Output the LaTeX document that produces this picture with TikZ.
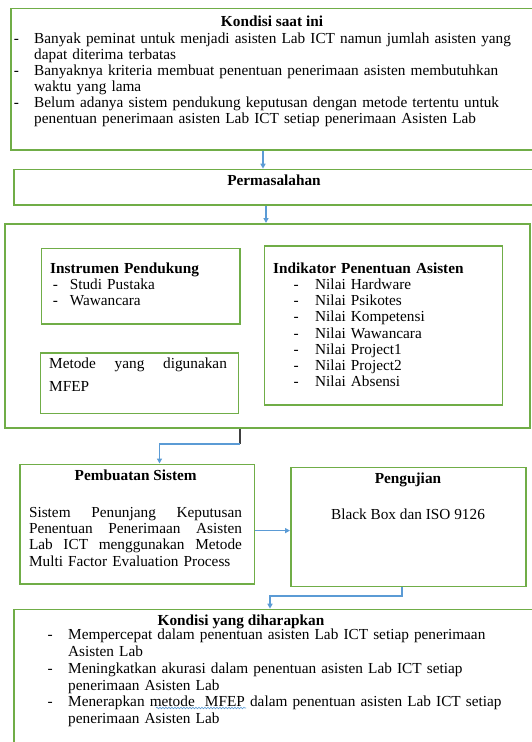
\documentclass[tikz,border=0pt]{standalone}
\usepackage{fontspec}
\setmainfont{Liberation Serif}
\usetikzlibrary{arrows.meta,decorations.pathmorphing}
\definecolor{bgreen}{HTML}{70AD47}
\definecolor{ablue}{HTML}{5B9BD5}
\definecolor{dline}{HTML}{404040}
\newcommand{\dsh}[1]{\makebox[#1][l]{-}}
\newcommand{\hng}[1]{\hspace*{#1}}
\begin{document}
\begin{tikzpicture}[x=1pt,y=-1pt,
  box/.style={draw=bgreen, line width=1.6pt, rectangle, inner sep=0pt, anchor=north west},
  arr/.style={draw=ablue, line width=1.3pt, -{Triangle[length=5pt,width=5pt]}},
  dk/.style={draw=dline, line width=1.6pt},
  txt/.style={inner sep=0pt, anchor=base west, text width=520pt, font=\fontsize{15.3}{16.1}\selectfont},
  txtb/.style={txt, font=\fontsize{15.3}{16.1}\selectfont\bfseries},
  ctxt/.style={inner sep=0pt, anchor=base, font=\fontsize{15.3}{16.1}\selectfont\bfseries},
  ctxtn/.style={inner sep=0pt, anchor=base, font=\fontsize{15.3}{16.1}\selectfont}]
\useasboundingbox (0,0) rectangle (532,742);
\clip (0,0) rectangle (532,742);
% boxes
\node[box, minimum width=535pt, minimum height=141.5pt] (k1) at (10,7.5) {};
\node[box, minimum width=532pt, minimum height=35.3pt] (perm) at (13,168.7) {};
\node[box, minimum width=525pt, minimum height=204pt] (big) at (4,223) {};
\node[box, minimum width=198.3pt, minimum height=75.3pt] (instr) at (40.7,247.7) {};
\node[box, minimum width=197.8pt, minimum height=60.6pt] (met) at (39.7,352) {};
\node[box, minimum width=237.8pt, minimum height=159pt] (ind) at (263.7,245) {};
\node[box, minimum width=234.2pt, minimum height=119.5pt] (pemb) at (19.3,463.5) {};
\node[box, minimum width=235pt, minimum height=118.8pt] (peng) at (290,466.8) {};
\node[box, minimum width=532pt, minimum height=151pt] (last) at (13,608.7) {};
% connectors
\draw[arr] (k1.south -| 263,0) -- (perm.north -| 263,0);
\draw[arr] (perm.south -| 266,0) -- (big.north -| 266,0);
\coordinate (bend1) at (240,444);
\draw[dk] (big.south -| bend1) -- (bend1);
\draw[arr] (bend1) -| (pemb.north -| 159.5,0);
\draw[arr] (pemb.east |- 0,530.6) -- (peng.west |- 0,530.6);
\coordinate (bend2) at (270,596);
\draw[arr] (peng.south -| 402,0) |- (bend2) -- (last.north -| bend2);
% texts
\node[ctxt] (k1t) at (272,26) {Kondisi saat ini};
\node[txt] (k1l) at (13.6,43) {\dsh{20.4pt}Banyak peminat untuk menjadi asisten Lab ICT namun jumlah asisten yang\\\hng{20.4pt}dapat diterima terbatas\\\dsh{20.4pt}Banyaknya kriteria membuat penentuan penerimaan asisten membutuhkan\\\hng{20.4pt}waktu yang lama\\\dsh{20.4pt}Belum adanya sistem pendukung keputusan dengan metode tertentu untuk\\\hng{20.4pt}penentuan penerimaan asisten Lab ICT setiap penerimaan Asisten Lab};
\node[ctxt] (pt) at (274,185) {Permasalahan};
\node[txtb] (it) at (50,273) {Instrumen Pendukung};
\node[txt] (il) at (52.6,289.7) {\dsh{17pt}Studi Pustaka\\\dsh{17pt}Wawancara};
\node[txt] (mt) at (49,368.5) {\makebox[177.7pt][l]{Metode\hfill yang\hfill digunakan}};
\node[txt] (mm) at (49,391.5) {MFEP};
\node[txtb] (ikt) at (273,273) {Indikator Penentuan Asisten};
\node[txt] (ikl) at (293.5,289.7) {\dsh{21.5pt}Nilai Hardware\\\dsh{21.5pt}Nilai Psikotes\\\dsh{21.5pt}Nilai Kompetensi\\\dsh{21.5pt}Nilai Wawancara\\\dsh{21.5pt}Nilai Project1\\\dsh{21.5pt}Nilai Project2\\\dsh{21.5pt}Nilai Absensi};
\node[ctxt] (pbt) at (135.7,480) {Pembuatan Sistem};
\node[txt] (pbl) at (28.8,517.7) {\makebox[213pt][l]{Sistem\hfill Penunjang\hfill Keputusan}\\\makebox[213pt][l]{Penentuan\hfill Penerimaan\hfill Asisten}\\\makebox[213pt][l]{Lab\hfill ICT\hfill menggunakan\hfill Metode}\\Multi Factor Evaluation Process};
\node[ctxt] (pgt) at (408,483) {Pengujian};
\node[ctxtn] (pgl) at (408,519.5) {Black Box dan ISO 9126};
\node[ctxt] (lt) at (241,625) {Kondisi yang diharapkan};
\node[txt, font=\fontsize{15.3}{16.76}\selectfont] (ll) at (47.5,639.8) {\dsh{20.5pt}Mempercepat dalam penentuan asisten Lab ICT setiap penerimaan\\\hng{20.5pt}Asisten Lab\\\dsh{20.5pt}Meningkatkan akurasi dalam penentuan asisten Lab ICT setiap\\\hng{20.5pt}penerimaan Asisten Lab\\\dsh{20.5pt}Menerapkan metode\ \ MFEP dalam penentuan asisten Lab ICT setiap\\\hng{20.5pt}penerimaan Asisten Lab};
\draw[ablue, line width=0.6pt, decorate, decoration={snake, amplitude=0.8pt, segment length=3pt}] (156,708) -- (246,708);
\end{tikzpicture}
\end{document}
